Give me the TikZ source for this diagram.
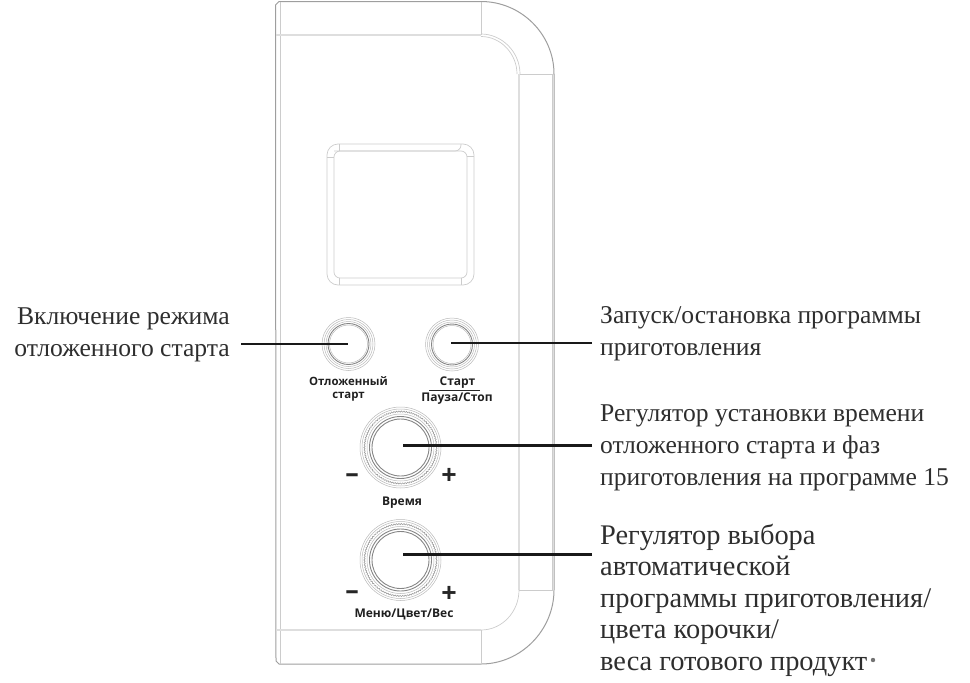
\documentclass[tikz,border=0pt]{standalone}
\usepackage{fontspec}
\setmainfont{Liberation Serif}
\newfontfamily\lbl{Open Sans}
\usetikzlibrary{decorations.pathmorphing}
\tikzset{
 x=1pt,y=-1pt,
 thinl/.style={draw=black!20,line width=0.7pt},
 bandl/.style={draw=black!13,line width=1.6pt},
 outl/.style={draw=black!38,line width=1pt},
 ring/.style={draw=black!28,line width=0.5pt},
 darkring/.style={draw=black!48,line width=0.9pt},
 leader/.style={draw=black!90,line width=2.8pt},
 captext/.style={inner sep=0pt,align=left,anchor=north west,font=\fontsize{25.6}{31.8}\selectfont,text=black!82},
 bigcap/.style={inner sep=0pt,align=left,anchor=north west,font=\fontsize{28.4}{31.4}\selectfont,text=black!82},
 panel/.style={inner sep=0pt,align=center,font=\lbl\bfseries\fontsize{12}{13}\selectfont,text=black!88},
 signtext/.style={inner sep=0pt,font=\lbl\bfseries\fontsize{27}{27}\selectfont,text=black!85},
 hub/.style={circle,inner sep=0pt,minimum size=0pt}
}
\begin{document}
\begin{tikzpicture}
\useasboundingbox (0,0) rectangle (970,683);
% body
\draw[outl] (279,1.5) -- (481,1.5) .. controls (521,1.5) and (554,34) .. (554,74) -- (554,590) .. controls (554,630) and (521,664) .. (481,664) -- (279,664) -- (276,661) -- (275.5,5) -- cycle;
\draw[thinl] (280,2) -- (280,664);
\draw[bandl] (276,35) -- (481,35);
\draw[bandl] (276,630) -- (481,630);
\draw[thinl] (481,1.5) -- (481,35);
\draw[thinl] (481,630) -- (481,664);
\draw[thinl] (519,74) -- (554,74);
\draw[thinl] (519,590) -- (554,590);
\draw[thinl] (481,34) .. controls (502,34) and (520,52) .. (520,74);
\draw[thinl] (481,36.5) .. controls (501,36.5) and (517,54) .. (517,74);
\draw[bandl] (519,74) -- (519,590);
\draw[thinl] (552,74) -- (552,590);
\draw[thinl] (519,590) .. controls (519,612) and (502,630) .. (481,630);
% display
\draw[thinl,rounded corners=11pt] (327,144) rectangle (474,285);
\draw[thinl,rounded corners=6pt] (334,151) -- (461,151) -- (461,144);
\draw[thinl,rounded corners=6pt] (334,151) rectangle (467,278);
\draw[thinl] (339,144) -- (339,151);
\draw[thinl] (327,157) -- (334,157);
\draw[thinl] (467,156) -- (474,156);
\draw[thinl] (339,278) -- (339,285);
\draw[thinl] (461,278) -- (461,285);
% small buttons
\foreach \cx/\cy in {348.5/344,452/344.5}{
 \draw[ring] (\cx,\cy) circle[radius=26.5];
 \draw[ring] (\cx,\cy) circle[radius=24.5];
 \draw[ring] (\cx,\cy) circle[radius=22.5];
 \draw[darkring] (\cx,\cy) circle[radius=20.5];
 \draw[ring] (\cx,\cy) circle[radius=19];
}
% knobs
\foreach \cx/\cy in {400.5/447.5,400.5/560}{
 \draw[ring] (\cx,\cy) circle[radius=40.5];
 \draw[ring] (\cx,\cy) circle[radius=38.5];
 \draw[draw=black!38,line width=0.6pt,decorate,decoration={zigzag,segment length=2.5pt,amplitude=0.6pt}] (\cx,\cy) circle[radius=36];
 \draw[ring] (\cx,\cy) circle[radius=33.5];
 \draw[darkring] (\cx,\cy) circle[radius=31];
 \draw[darkring] (\cx,\cy) circle[radius=28.5];
}
% connectors
\node[hub] (btnA) at (348,344) {};
\node[hub] (btnB) at (451,343) {};
\node[hub] (knobA) at (403,445.5) {};
\node[hub] (knobB) at (403,554.5) {};
\coordinate (la) at (241,344);
\coordinate (lb) at (592,343);
\coordinate (lc) at (592,445.5);
\coordinate (ld) at (592,554.5);
\draw[leader] (la) -- (btnA);
\draw[leader] (lb) -- (btnB);
\draw[leader] (lc) -- (knobA);
\draw[leader] (ld) -- (knobB);
% panel labels
\node[panel,font=\lbl\bfseries\fontsize{11.4}{12.5}\selectfont] (p1) at (348.5,389) {Отложенный\\старт};
\node[panel] (p2) at (457.5,382.5) {Старт};
\node[panel] (p3) at (457,398.5) {Пауза/Стоп};
\draw[draw=black!85,line width=0.9pt] (429,390) -- (480,390);
\node[panel] (p4) at (402,503) {Время};
\node[panel] (p5) at (404,614) {Меню/Цвет/Вес};
\node[signtext] (m1) at (352,478) {–};
\node[signtext] (s1) at (449,476) {+};
\node[signtext] (m2) at (352,595) {–};
\node[signtext] (s2) at (449,594) {+};
% captions
\node[captext,align=right,anchor=north east] (c1) at (230,307.5) {Включение режима\\отложенного старта};
\node[captext] (c2) at (600,306.5) {Запуск/остановка программы\\приготовления};
\node[captext] (c3) at (600,405) {Регулятор установки времени\\отложенного старта и фаз\\приготовления на программе 15};
\node[bigcap] (c4) at (600,524) {Регулятор выбора\\автоматической\\программы приготовления/\\цвета корочки/\\веса готового продукта};
\fill[white] (867,648) rectangle (960,683);
\fill[black!55] (873,660) circle[radius=2.2];
\end{tikzpicture}
\end{document}
